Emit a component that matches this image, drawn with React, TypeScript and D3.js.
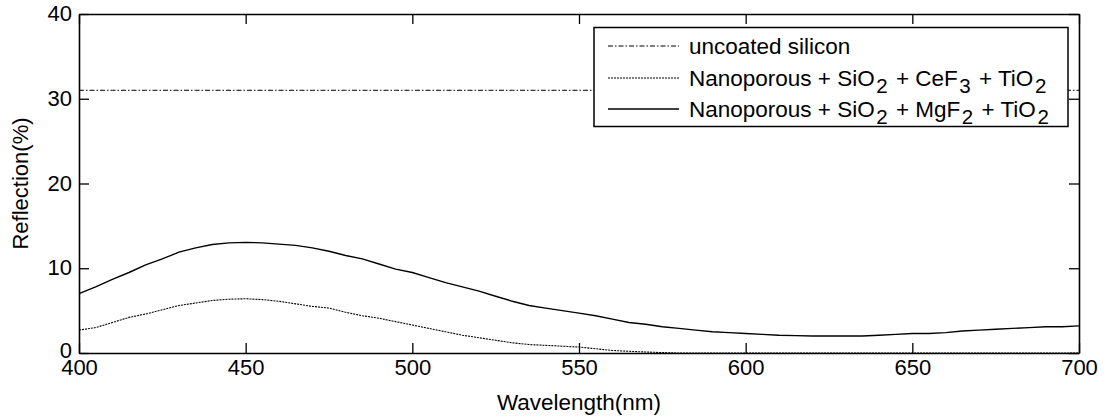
import React, { useEffect, useRef } from 'react';
import * as d3 from 'd3';

// wavelength samples (nm)
const wavelengths = [
  400, 405, 410, 415, 420, 425, 430, 435, 440, 445, 450, 455, 460, 465, 470, 475, 480, 485, 490, 495,
  500, 505, 510, 515, 520, 525, 530, 535, 540, 545, 550, 555, 560, 565, 570, 575, 580, 585, 590, 595,
  600, 605, 610, 615, 620, 625, 630, 635, 640, 645, 650, 655, 660, 665, 670, 675, 680, 685, 690, 695, 700,
];

const uncoated = [
  31, 31, 31, 31, 31, 31, 31, 31, 31, 31, 31, 31, 31, 31, 31, 31, 31, 31, 31, 31,
  31, 31, 31, 31, 31, 31, 31, 31, 31, 31, 31, 31, 31, 31, 31, 31, 31, 31, 31, 31,
  31, 31, 31, 31, 31, 31, 31, 31, 31, 31, 31, 31, 31, 31, 31, 31, 31, 31, 31, 31, 31,
];

const ceF3 = [
  2.7, 3.0, 3.6, 4.2, 4.6, 5.1, 5.6, 5.9, 6.2, 6.35, 6.4, 6.3, 6.1, 5.8, 5.5, 5.3, 4.8, 4.4, 4.1, 3.7,
  3.3, 2.9, 2.5, 2.1, 1.8, 1.5, 1.2, 1.0, 0.9, 0.8, 0.7, 0.5, 0.3, 0.2, 0.12, 0.05, 0, 0, 0, 0,
  0, 0, 0, 0, 0, 0, 0, 0, 0, 0, 0, 0, 0, 0, 0, 0, 0, 0, 0, 0, 0,
];

const mgF2 = [
  7.0, 7.8, 8.7, 9.5, 10.4, 11.1, 11.9, 12.4, 12.8, 13.0, 13.05, 13.0, 12.85, 12.7, 12.4, 12.0, 11.5, 11.1, 10.5, 9.9,
  9.5, 8.9, 8.3, 7.8, 7.3, 6.7, 6.1, 5.6, 5.3, 5.0, 4.7, 4.4, 4.0, 3.6, 3.4, 3.1, 2.9, 2.7, 2.5, 2.4,
  2.3, 2.2, 2.1, 2.05, 2.0, 2.0, 2.0, 2.0, 2.1, 2.2, 2.3, 2.3, 2.4, 2.6, 2.7, 2.8, 2.9, 3.0, 3.1, 3.1, 3.2,
];

const xTicks = [400, 450, 500, 550, 600, 650, 700];
const yTicks = [0, 10, 20, 30, 40];

const FONT = 'Arial, "Liberation Sans", Helvetica, sans-serif';

export default function App() {
  const svgRef = useRef<SVGSVGElement>(null);

  useEffect(() => {
    const svg = d3.select(svgRef.current);
    svg.selectAll('*').remove();

    const margin = { top: 14, right: 29, bottom: 67, left: 79 };
    const W = 1108, H = 420;
    const width = W - margin.left - margin.right;
    const height = H - margin.top - margin.bottom;

    const x = d3.scaleLinear().domain([400, 700]).range([0, width]);
    const y = d3.scaleLinear().domain([0, 40]).range([height, 0]);

    svg.append('rect').attr('width', W).attr('height', H).attr('fill', '#fff');

    const g = svg.append('g').attr('transform', `translate(${margin.left},${margin.top})`);

    const series = [
      { values: uncoated, dash: '5,2,1.5,2', width: 1 },
      { values: ceF3, dash: '2,1', width: 1.1 },
      { values: mgF2, dash: null, width: 1.4 },
    ];

    const line = d3
      .line<number>()
      .x((_, i) => x(wavelengths[i]))
      .y((d) => y(d));

    series.forEach((s) => {
      g.append('path')
        .datum(s.values)
        .attr('fill', 'none')
        .attr('stroke', '#000')
        .attr('stroke-width', s.width)
        .attr('stroke-dasharray', s.dash)
        .attr('d', line);
    });

    // axes with inward ticks on all four sides
    const tickLen = 10;
    const bottom = g.append('g').attr('transform', `translate(0,${height})`)
      .call(d3.axisBottom(x).tickValues(xTicks).tickSizeInner(-tickLen).tickSizeOuter(0).tickPadding(6));
    const top = g.append('g')
      .call(d3.axisTop(x).tickValues(xTicks).tickSizeInner(-tickLen).tickSizeOuter(0).tickFormat(() => ''));
    const left = g.append('g')
      .call(d3.axisLeft(y).tickValues(yTicks).tickSizeInner(-tickLen).tickSizeOuter(0).tickPadding(7));
    const right = g.append('g').attr('transform', `translate(${width},0)`)
      .call(d3.axisRight(y).tickValues(yTicks).tickSizeInner(-tickLen).tickSizeOuter(0).tickFormat(() => ''));

    [bottom, top, left, right].forEach((a) => {
      a.select('.domain').attr('stroke', '#000').attr('stroke-width', 1.6);
      a.selectAll('.tick line').attr('stroke', '#000').attr('stroke-width', 1.3);
      a.selectAll('.tick text').attr('fill', '#000').style('font-family', FONT).style('font-size', '22px');
    });
    bottom.selectAll('.tick text').attr('dy', '0.72em');
    left.selectAll('.tick text').attr('dy', '0.3em');
    // lift the "0" label a little so it clears the "400" below it
    left.selectAll('.tick text').filter((d) => d === 0).attr('dy', '0.2em');

    // axis titles
    svg.append('text')
      .attr('x', margin.left + width / 2)
      .attr('y', 410)
      .attr('text-anchor', 'middle')
      .style('font-family', FONT)
      .style('font-size', '22.5px')
      .text('Wavelength(nm)');

    svg.append('text')
      .attr('transform', `translate(28,${margin.top + height / 2}) rotate(-90)`)
      .attr('text-anchor', 'middle')
      .style('font-family', FONT)
      .style('font-size', '22px')
      .text('Reflection(%)');

    // legend
    const lg = svg.append('g');
    lg.append('rect')
      .attr('x', 594).attr('y', 27.5).attr('width', 474).attr('height', 99)
      .attr('fill', '#fff').attr('stroke', '#000').attr('stroke-width', 1.5);

    const entries = [
      { s: series[0], parts: [['uncoated silicon', false]] },
      { s: series[1], parts: [['Nanoporous + SiO', false], ['2', true], [' + CeF', false], ['3', true], [' + TiO', false], ['2', true]] },
      { s: series[2], parts: [['Nanoporous + SiO', false], ['2', true], [' + MgF', false], ['2', true], [' + TiO', false], ['2', true]] },
    ];
    const rowY = [46, 78, 109];

    entries.forEach((e, i) => {
      lg.append('line')
        .attr('x1', 608).attr('x2', 679)
        .attr('y1', rowY[i]).attr('y2', rowY[i])
        .attr('stroke', '#000')
        .attr('stroke-width', e.s.width)
        .attr('stroke-dasharray', e.s.dash);
      const t = lg.append('text')
        .attr('x', 689).attr('y', rowY[i] + 8)
        .style('font-family', FONT)
        .style('font-size', '22.5px');
      e.parts.forEach(([txt, sub]) => {
        if (sub) {
          t.append('tspan').attr('dy', 7).attr('dx', 1.5).style('font-size', '20.5px').text(txt as string);
        } else {
          const prevSub = t.selectAll('tspan').size() > 0;
          t.append('tspan').attr('dy', prevSub ? -7 : 0).attr('dx', prevSub ? 2 : 0).text(txt as string);
        }
      });
    });
  }, []);

  return (
    <svg
      ref={svgRef}
      width={1108}
      height={420}
      style={{ position: 'absolute', left: 0, top: 0, display: 'block' }}
    />
  );
}
